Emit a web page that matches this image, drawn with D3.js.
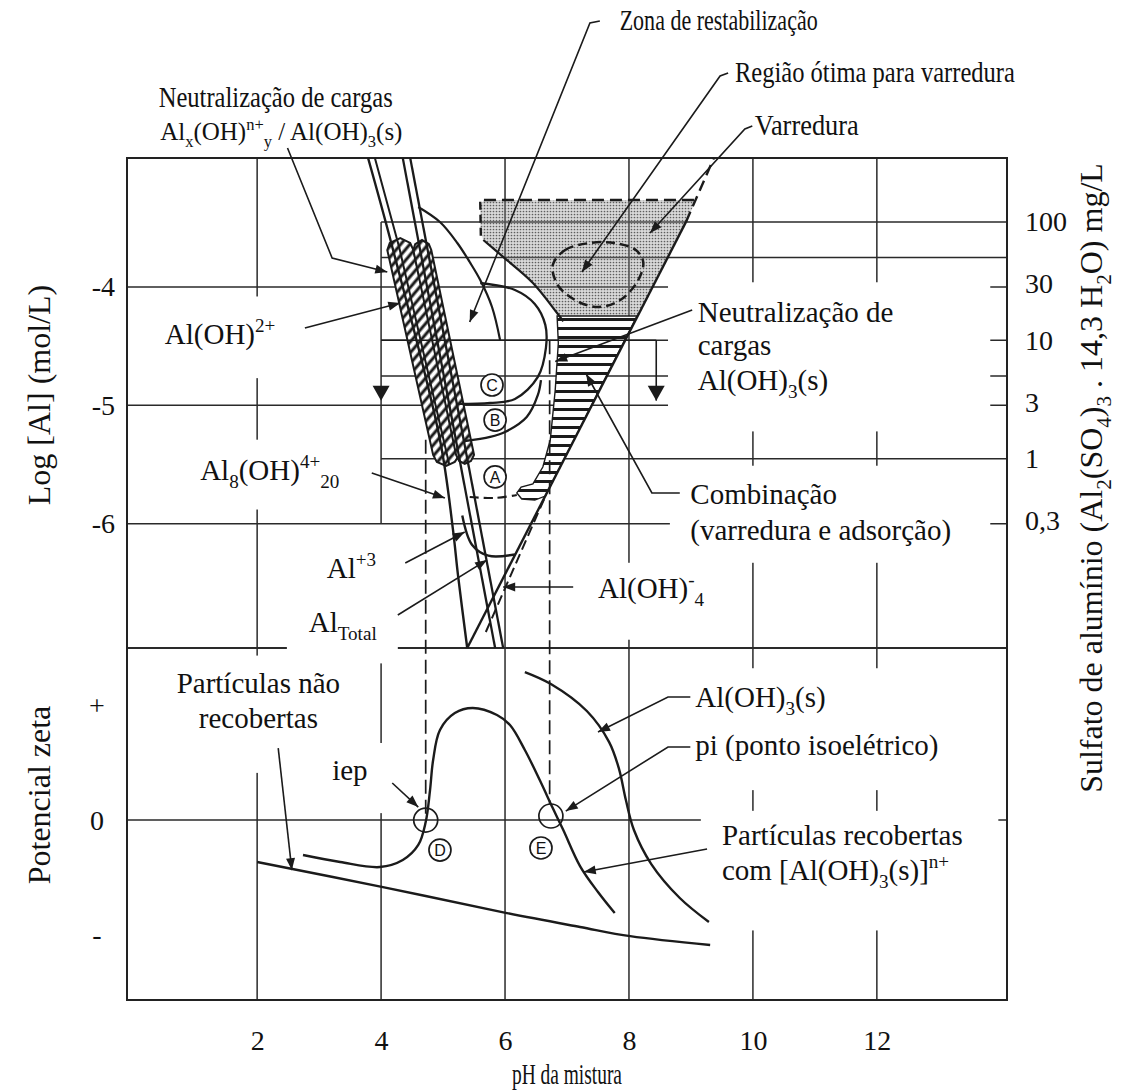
<!DOCTYPE html>
<html lang="pt">
<head>
<meta charset="utf-8">
<title>Diagrama de coagulação – sulfato de alumínio</title>
<script src="https://cdn.jsdelivr.net/npm/d3@7"></script>
<style>
  html, body { margin: 0; padding: 0; background: #fff; }
  svg { display: block; }
  svg text { font-family: "Liberation Serif", "Times New Roman", serif; fill: #111; white-space: pre; }
</style>
</head>
<body>
<svg id="chart" width="1129" height="1091"></svg>
<script>
// ---------------- axis values ----------------
const phTicks = [2, 4, 6, 8, 10, 12];
const logTicks = [-4, -5, -6];
const zetaTicks = [1, 0, -1];
const zetaTickText = ['+', '0', '-'];
const doseTicks = [100, 30, 10, 3, 1, 0.3];   // mg/L of alum, right-hand axis
const doseGrid = [100, 50, 10, 5, 1];         // mg/L guide lines
const ALUM_LOG_SHIFT = -5.45;                 // log10(mg/L alum) -> log10(mol Al/L)

// ---------------- upper panel: log[Al] (mol/L) vs pH ----------------
const alLeft       = [[3.79,-2.91],[4.18,-3.66],[4.95,-5.29],[5.16,-6.05],[5.24,-6.43],[5.39,-7.05]];
const alLeftInner  = [[3.90,-2.91],[4.29,-3.66],[5.10,-5.50]];
const al3Outer     = [[4.35,-2.91],[5.84,-7.05]];
const al3Inner     = [[4.47,-2.91],[5.97,-7.05]];
const aluminate      = [[5.39,-7.05],[8.92,-3.45]];
const aluminateUpper = [[8.92,-3.45],[9.37,-2.91]];
const aluminateDash  = [[5.69,-6.915],[6.66,-5.757]];
const alTotalKnee  = [[5.31,-5.93],[5.47,-6.18],[5.73,-6.27],[6.16,-6.26]];

const restabUpper  = [[4.60,-3.324],[4.95,-3.451],[5.23,-3.628],[5.43,-3.789],[5.60,-3.941],[5.79,-4.169],[5.92,-4.447]];
const zoneC = [[5.60,-3.966],[6.16,-4.025],[6.48,-4.143],[6.65,-4.32],[6.66,-4.515],[6.53,-4.76],[6.16,-4.946],[5.76,-4.98],[5.24,-4.988]];
const zoneB = [[5.35,-5.301],[5.76,-5.267],[6.00,-5.225],[6.35,-5.098],[6.53,-4.912],[6.58,-4.786]];
const zoneA = [[5.43,-5.774],[5.84,-5.782],[6.19,-5.757]];

const sweepArea = [[5.60,-3.307],[5.66,-3.265],[9.09,-3.265],[8.09,-4.296],[6.94,-4.296],[6.84,-4.22],
                   [6.45,-3.966],[5.97,-3.746],[5.65,-3.603],[5.60,-3.518]];
const sweepTopEdge    = [[5.66,-3.265],[9.09,-3.265]];
const sweepLeftDashed = [[5.60,-3.28],[5.61,-3.58]];
const sweepLeftSolid  = [[5.65,-3.603],[5.97,-3.746],[6.45,-3.966],[6.84,-4.22],[6.94,-4.29]];
const sweepOptimum = [[6.77,-3.814],[6.97,-3.687],[7.37,-3.628],[7.77,-3.628],[8.11,-3.687],[8.23,-3.789],
                      [8.15,-3.941],[7.86,-4.11],[7.50,-4.169],[7.13,-4.11],[6.85,-3.983]];

const combinationArea = [[6.84,-4.245],[8.13,-4.245],[6.65,-5.766],[6.48,-5.80],[6.27,-5.791],[6.19,-5.74],
                         [6.26,-5.69],[6.45,-5.664],[6.61,-5.521],[6.73,-5.293],[6.81,-4.87],[6.86,-4.473]];

const bandLeft  = [[4.10,-3.687],[4.14,-3.628],[4.31,-3.586],[4.47,-3.628],[4.52,-3.687],
                   [5.26,-5.419],[5.19,-5.478],[5.05,-5.512],[4.90,-5.478],[4.84,-5.419]];
const bandRight = [[4.52,-3.687],[4.55,-3.637],[4.66,-3.603],[4.77,-3.637],[4.81,-3.687],
                   [5.50,-5.419],[5.45,-5.470],[5.35,-5.495],[5.26,-5.470],[5.21,-5.419]];

const doseBracket = { phFrom: 4, phTo: 8.44, dose: 10, tipLog: -4.96 };
const iepGuide = { ph: 4.72, fromLog: -5.29, toZeta: 0.0 };
const piGuide  = { ph: 6.72, fromLog: -4.45, toZeta: 0.14 };

const regionMarks = [ { t:'C', ph:5.79, v:-4.828 }, { t:'B', ph:5.84, v:-5.124 }, { t:'A', ph:5.84, v:-5.605 } ];

// ---------------- lower panel: zeta potential vs pH ----------------
const uncoated = [[2.00,-0.365],[4.03,-0.583],[6.03,-0.809],[7.21,-0.93],[8.02,-1.01],[9.31,-1.087]];
const coated = [[2.74,-0.304],[3.34,-0.365],[3.98,-0.409],[4.35,-0.348],[4.60,-0.217],[4.72,-0.017],
                [4.79,0.261],[4.84,0.522],[4.95,0.783],[5.19,0.930],[5.48,0.974],[5.87,0.913],[6.08,0.826],
                [6.32,0.609],[6.56,0.348],[6.77,0.104],[6.94,-0.087],[7.21,-0.40],[7.50,-0.626],[7.77,-0.809]];
const hydroxide = [[6.32,1.287],[6.74,1.183],[7.32,0.948],[7.68,0.678],[7.84,0.443],[7.95,0.174],
                   [8.08,-0.087],[8.36,-0.383],[8.82,-0.678],[9.29,-0.887]];
const zeroCrossings = [[4.72, 0.0],[6.74, 0.035]];
const zetaMarks = [ { t:'D', ph:4.95, v:-0.261 }, { t:'E', ph:6.58, v:-0.243 } ];

// ---------------- annotations ----------------
const labelsTop = [
  { ph:7.85,  v:-1.829, anchor:'start',  text:'Zona de restabilização' },
  { ph:9.71,  v:-2.268, anchor:'start',  text:'Região ótima para varredura' },
  { ph:2.30,  v:-2.479, anchor:'middle', text:'Neutralização de cargas' },
  { ph:2.39,  v:-2.758, anchor:'middle', text:'Al_{x}(OH)^{n+}_{y} / Al(OH)_{3}(s)' },
  { ph:10.03, v:-2.716, anchor:'start',  text:'Varredura' },
  { ph:0.51,  v:-4.481, anchor:'start',  text:'Al(OH)^{2+}' },
  { ph:9.11,  v:-4.296, anchor:'start',  text:'Neutralização de' },
  { ph:9.11,  v:-4.574, anchor:'start',  text:'cargas' },
  { ph:9.11,  v:-4.870, anchor:'start',  text:'Al(OH)_{3}(s)' },
  { ph:1.08,  v:-5.630, anchor:'start',  text:'Al_{8}(OH)^{4+}_{20}' },
  { ph:8.99,  v:-5.833, anchor:'start',  text:'Combinação' },
  { ph:8.99,  v:-6.137, anchor:'start',  text:'(varredura e adsorção)' },
  { ph:3.92,  v:-6.459, anchor:'end',    text:'Al^{+3}' },
  { ph:3.93,  v:-6.915, anchor:'end',    text:'Al_{Total}' },
  { ph:7.50,  v:-6.628, anchor:'start',  text:'Al(OH)^{-}_{4}' }
];
const labelsBottom = [
  { ph:2.02, v:1.104,  anchor:'middle', text:'Partículas não' },
  { ph:2.02, v:0.800,  anchor:'middle', text:'recobertas' },
  { ph:3.21, v:0.348,  anchor:'start',  text:'iep' },
  { ph:9.07, v:0.983,  anchor:'start',  text:'Al(OH)_{3}(s)' },
  { ph:9.07, v:0.565,  anchor:'start',  text:'pi (ponto isoelétrico)' },
  { ph:9.50, v:-0.217, anchor:'start',  text:'Partículas recobertas' },
  { ph:9.50, v:-0.522, anchor:'start',  text:'com [Al(OH)_{3}(s)]^{n+}' }
];
const leadersTop = [
  [[2.49,-2.826],[3.21,-3.755],[4.10,-3.873]],
  [[2.77,-4.346],[4.31,-4.135]],
  [[7.53,-1.753],[7.37,-1.770],[5.43,-4.296]],
  [[9.60,-2.192],[9.47,-2.217],[7.24,-3.873]],
  [[9.99,-2.640],[9.87,-2.665],[8.34,-3.544]],
  [[9.02,-4.194],[6.81,-4.630]],
  [[8.82,-5.740],[8.37,-5.740],[7.31,-4.735]],
  [[3.85,-5.571],[5.03,-5.783]],
  [[4.39,-6.332],[5.35,-6.070]],
  [[4.27,-6.771],[5.71,-6.306]],
  [[7.10,-6.534],[5.97,-6.534]]
];
const leadersBottom = [
  [[2.34,0.626],[2.56,-0.435]],
  [[4.18,0.322],[4.60,0.113]],
  [[8.99,1.070],[8.63,1.070],[7.50,0.765]],
  [[8.99,0.635],[8.63,0.635],[6.98,0.078]],
  [[9.26,-0.252],[7.27,-0.452]]
];
// blank panels behind the annotation text: [pH0, pH1, v0, v1]
const textPanelsTop = [
  [0.27, 2.69, -4.08, -4.77],
  [0.92, 3.50, -5.29, -5.88],
  [2.48, 4.27, -6.10, -7.18],
  [8.63, 13.83, -3.96, -5.22],
  [8.66, 13.83, -5.51, -6.33],
  [7.13, 9.34, -6.33, -6.98]
];
const textPanelsBottom = [
  [0.43, 3.50, 1.43, 0.41],
  [3.01, 4.24, 0.67, 0.06],
  [8.95, 13.96, 1.32, 0.26],
  [9.16, 13.96, 0.08, -0.96]
];
// the captions above the frame are set in a narrower type: rendered width in px
const captionWidth = {
  'Zona de restabilização': 198,
  'Região ótima para varredura': 280,
  'Neutralização de cargas': 234,
  'Varredura': 104
};
const captionSize = { 'Al_{x}(OH)^{n+}_{y} / Al(OH)_{3}(s)': 25 };

// ---------------- layout & scales ----------------
const frame = { left:127, right:1007, top:158, mid:648, bottom:1000 };
const INK = '#1b1b1b';
const FS = 29;

const x = d3.scaleLinear().domain([-0.1, 14.1]).range([frame.left, frame.right]);
const yLog = d3.scaleLinear().domain([-7.05, -2.91]).range([frame.mid, frame.top]);
const yZeta = d3.scaleLinear().domain([-1.565, 1.496]).range([frame.bottom, frame.mid]);
const yDose = d3.scaleLog()
  .domain([Math.pow(10, -7.05 - ALUM_LOG_SHIFT), Math.pow(10, -2.91 - ALUM_LOG_SHIFT)])
  .range([frame.mid, frame.top]);

const svg = d3.select('#chart');

// ---------------- patterns ----------------
const defs = svg.append('defs');
const stipple = defs.append('pattern').attr('id', 'stipple')
  .attr('patternUnits', 'userSpaceOnUse').attr('width', 3).attr('height', 3);
stipple.append('circle').attr('cx', 1.5).attr('cy', 1.5).attr('r', 0.85).attr('fill', '#5e5e5e');

const diag = defs.append('pattern').attr('id', 'diagHatch')
  .attr('patternUnits', 'userSpaceOnUse').attr('width', 7).attr('height', 7)
  .attr('patternTransform', 'rotate(40)');
diag.append('rect').attr('width', 7).attr('height', 7).attr('fill', '#fff');
diag.append('line').attr('x1', 2).attr('x2', 2).attr('y1', 0).attr('y2', 7)
  .attr('stroke', INK).attr('stroke-width', 3);

const horiz = defs.append('pattern').attr('id', 'hHatch')
  .attr('patternUnits', 'userSpaceOnUse').attr('width', 10).attr('height', 9);
horiz.append('rect').attr('width', 10).attr('height', 9).attr('fill', '#fff');
horiz.append('line').attr('x1', 0).attr('x2', 10).attr('y1', 4.5).attr('y2', 4.5)
  .attr('stroke', INK).attr('stroke-width', 3);

// ---------------- generators ----------------
const topLine  = d3.line().x(d => x(d[0])).y(d => yLog(d[1]));
const topCurve = d3.line().x(d => x(d[0])).y(d => yLog(d[1])).curve(d3.curveCatmullRom.alpha(0.5));
const topLoop  = d3.line().x(d => x(d[0])).y(d => yLog(d[1])).curve(d3.curveCatmullRomClosed.alpha(0.5));
const botCurve = d3.line().x(d => x(d[0])).y(d => yZeta(d[1])).curve(d3.curveCatmullRom.alpha(0.5));

function arrowHead(g, from, to, len, half) {
  const dx = to[0] - from[0], dy = to[1] - from[1];
  const L = Math.hypot(dx, dy), ux = dx / L, uy = dy / L;
  const bx = to[0] - ux * len, by = to[1] - uy * len;
  const pts = [[to[0], to[1]], [bx - uy * half, by + ux * half], [bx + uy * half, by - ux * half]];
  g.append('path').attr('d', 'M' + pts.map(p => p.join(',')).join('L') + 'Z').attr('fill', INK);
}

// text with ^{superscript} and _{subscript} runs
function richText(sel, str, fs) {
  const tokens = str.split(/(\^\{[^}]*\}|_\{[^}]*\})/).filter(s => s.length);
  let shift = 0;
  tokens.forEach(tok => {
    let mode = 0, t = tok;
    if (tok.startsWith('^{')) { mode = -1; t = tok.slice(2, -1); }
    else if (tok.startsWith('_{')) { mode = 1; t = tok.slice(2, -1); }
    const target = mode === -1 ? -0.42 * fs : mode === 1 ? 0.27 * fs : 0;
    sel.append('tspan').attr('dy', target - shift).attr('font-size', mode ? fs * 0.66 : fs).text(t);
    shift = target;
  });
  return sel;
}

// ---------------- grid ----------------
const grid = svg.append('g').attr('stroke', '#2a2a2a').attr('stroke-width', 1.5).attr('fill', 'none');
phTicks.forEach(p => {
  const y0 = p === 4 ? yDose(100) : frame.top;
  const y1 = p === 4 ? yLog(-6) : frame.mid;
  grid.append('line').attr('x1', x(p)).attr('x2', x(p)).attr('y1', y0).attr('y2', y1);
  grid.append('line').attr('x1', x(p)).attr('x2', x(p)).attr('y1', frame.mid).attr('y2', frame.bottom);
});
logTicks.forEach(v => grid.append('line')
  .attr('x1', frame.left).attr('x2', frame.right).attr('y1', yLog(v)).attr('y2', yLog(v)));
doseGrid.forEach(m => grid.append('line')
  .attr('x1', x(4)).attr('x2', frame.right).attr('y1', yDose(m)).attr('y2', yDose(m)));
grid.append('line').attr('x1', frame.left).attr('x2', frame.right)
  .attr('y1', yZeta(0)).attr('y2', yZeta(0));
grid.append('line').attr('x1', frame.left).attr('x2', frame.right)
  .attr('y1', frame.mid).attr('y2', frame.mid).attr('stroke-width', 1.8);
svg.append('rect').attr('x', frame.left).attr('y', frame.top)
  .attr('width', frame.right - frame.left).attr('height', frame.bottom - frame.top)
  .attr('fill', 'none').attr('stroke', '#222').attr('stroke-width', 2);

// blank panels that carry the annotation text
const panels = svg.append('g').attr('fill', '#fff');
textPanelsTop.forEach(b => panels.append('rect')
  .attr('x', x(b[0])).attr('width', x(b[1]) - x(b[0]))
  .attr('y', yLog(b[2])).attr('height', yLog(b[3]) - yLog(b[2])));
textPanelsBottom.forEach(b => panels.append('rect')
  .attr('x', x(b[0])).attr('width', x(b[1]) - x(b[0]))
  .attr('y', yZeta(b[2])).attr('height', yZeta(b[3]) - yZeta(b[2])));

// ---------------- regions ----------------
const regions = svg.append('g');
regions.append('path').attr('d', topLine(sweepArea) + 'Z').attr('fill', '#8d8d8d').attr('fill-opacity', 0.33);
regions.append('path').attr('d', topLine(sweepArea) + 'Z').attr('fill', 'url(#stipple)');
regions.append('path').attr('d', topLine(combinationArea) + 'Z')
  .attr('fill', 'url(#hHatch)').attr('stroke', INK).attr('stroke-width', 1.4);
[bandLeft, bandRight].forEach(b => regions.append('path').attr('d', topLine(b) + 'Z')
  .attr('fill', 'url(#diagHatch)').attr('stroke', INK).attr('stroke-width', 2));

// ---------------- upper panel lines ----------------
const lines = svg.append('g').attr('fill', 'none').attr('stroke', INK).attr('stroke-linejoin', 'round');
lines.append('path').attr('d', topCurve(alLeft)).attr('stroke-width', 2.4);
lines.append('path').attr('d', topLine(alLeftInner)).attr('stroke-width', 2);
lines.append('path').attr('d', topLine(al3Outer)).attr('stroke-width', 2.3);
lines.append('path').attr('d', topLine(al3Inner)).attr('stroke-width', 2.3);
lines.append('path').attr('d', topLine(aluminate)).attr('stroke-width', 2.4);
lines.append('path').attr('d', topLine(aluminateUpper)).attr('stroke-width', 2.4).attr('stroke-dasharray', '11 6');
lines.append('path').attr('d', topLine(aluminateDash)).attr('stroke-width', 2).attr('stroke-dasharray', '10 5');
lines.append('path').attr('d', topCurve(alTotalKnee)).attr('stroke-width', 2.4);
lines.append('path').attr('d', topCurve(restabUpper)).attr('stroke-width', 2.2);
lines.append('path').attr('d', topCurve(zoneC)).attr('stroke-width', 2.3);
lines.append('path').attr('d', topCurve(zoneB)).attr('stroke-width', 2.3);
lines.append('path').attr('d', topCurve(zoneA)).attr('stroke-width', 2.2).attr('stroke-dasharray', '9 5');
lines.append('path').attr('d', topLine(sweepTopEdge)).attr('stroke-width', 2.4).attr('stroke-dasharray', '12 6');
lines.append('path').attr('d', topLine(sweepLeftDashed)).attr('stroke-width', 2.4).attr('stroke-dasharray', '8 5');
lines.append('path').attr('d', topCurve(sweepLeftSolid)).attr('stroke-width', 2.2);
lines.append('path').attr('d', topLoop(sweepOptimum)).attr('stroke-width', 2.5).attr('stroke-dasharray', '9 5');

// dosage bracket at 10 mg/L with downward arrows
const br = svg.append('g').attr('stroke', INK).attr('fill', 'none').attr('stroke-width', 1.6);
br.append('line').attr('x1', x(doseBracket.phFrom)).attr('x2', x(doseBracket.phTo))
  .attr('y1', yDose(doseBracket.dose)).attr('y2', yDose(doseBracket.dose));
br.append('line').attr('x1', x(doseBracket.phTo)).attr('x2', x(doseBracket.phTo))
  .attr('y1', yDose(doseBracket.dose)).attr('y2', yLog(doseBracket.tipLog));
[doseBracket.phFrom, doseBracket.phTo].forEach(p =>
  arrowHead(svg, [x(p), yLog(doseBracket.tipLog) - 30], [x(p), yLog(doseBracket.tipLog)], 15, 8.5));

// dashed guides from the upper diagram down to the zeta axis
[iepGuide, piGuide].forEach(gd => svg.append('line')
  .attr('x1', x(gd.ph)).attr('x2', x(gd.ph))
  .attr('y1', yLog(gd.fromLog)).attr('y2', yZeta(gd.toZeta))
  .attr('stroke', INK).attr('stroke-width', 1.7).attr('stroke-dasharray', '14 6'));

// ---------------- lower panel curves ----------------
lines.append('path').attr('d', botCurve(uncoated)).attr('stroke-width', 2.4);
lines.append('path').attr('d', botCurve(coated)).attr('stroke-width', 2.4);
lines.append('path').attr('d', botCurve(hydroxide)).attr('stroke-width', 2.4);

zeroCrossings.forEach(c => svg.append('circle').attr('cx', x(c[0])).attr('cy', yZeta(c[1])).attr('r', 12)
  .attr('fill', 'none').attr('stroke', INK).attr('stroke-width', 1.7));

function markLetter(m, yScale) {
  const g = svg.append('g').attr('transform', `translate(${x(m.ph)},${yScale(m.v)})`);
  g.append('circle').attr('r', 11).attr('fill', '#fff').attr('stroke', INK).attr('stroke-width', 1.7);
  g.append('text').attr('text-anchor', 'middle').attr('dy', '0.36em')
    .style('font-family', '"Liberation Sans", Arial, sans-serif').attr('font-size', 16).text(m.t);
}
regionMarks.forEach(m => markLetter(m, yLog));
zetaMarks.forEach(m => markLetter(m, yZeta));

// ---------------- leaders ----------------
const lead = svg.append('g');
function drawLeader(pts, yScale) {
  const px = pts.map(p => [x(p[0]), yScale(p[1])]);
  lead.append('path').attr('d', d3.line()(px)).attr('fill', 'none')
    .attr('stroke', INK).attr('stroke-width', 1.6);
  arrowHead(lead, px[px.length - 2], px[px.length - 1], 12, 4.5);
}
leadersTop.forEach(p => drawLeader(p, yLog));
leadersBottom.forEach(p => drawLeader(p, yZeta));

// ---------------- labels ----------------
const lab = svg.append('g');
labelsTop.forEach(l => {
  const fs = captionSize[l.text] || FS;
  const t = lab.append('text').attr('x', x(l.ph)).attr('y', yLog(l.v))
    .attr('text-anchor', l.anchor).attr('font-size', fs);
  richText(t, l.text, fs);
  if (captionWidth[l.text]) t.attr('textLength', captionWidth[l.text]).attr('lengthAdjust', 'spacingAndGlyphs');
});
labelsBottom.forEach(l => richText(lab.append('text').attr('x', x(l.ph)).attr('y', yZeta(l.v))
  .attr('text-anchor', l.anchor).attr('font-size', FS), l.text, FS));

// ---------------- axes ----------------
function styleAxis(g) {
  g.select('.domain').remove();
  g.selectAll('line').remove();
  g.attr('font-family', null).attr('font-size', null);
  g.selectAll('text').attr('font-size', 28).attr('fill', '#111');
}
svg.append('g').attr('transform', `translate(0,${frame.bottom})`)
  .call(d3.axisBottom(x).tickValues(phTicks).tickSize(0).tickPadding(30).tickFormat(d => String(d)))
  .call(styleAxis);
svg.append('g').attr('transform', `translate(${frame.left},0)`)
  .call(d3.axisLeft(yLog).tickValues(logTicks).tickSize(0).tickPadding(12).tickFormat(d => String(d)))
  .call(styleAxis);
svg.append('g').attr('transform', `translate(${frame.left},0)`)
  .call(d3.axisLeft(yZeta).tickValues(zetaTicks).tickSize(0).tickPadding(30)
    .tickFormat((d, i) => zetaTickText[i]))
  .call(styleAxis)
  .selectAll('text').attr('text-anchor', 'middle');
svg.append('g').attr('transform', `translate(${frame.right},0)`)
  .call(d3.axisRight(yDose).tickValues(doseTicks).tickSize(0).tickPadding(18)
    .tickFormat(d => String(d).replace('.', ',')))
  .call(styleAxis);

// axis titles
const TFS = 32;
svg.append('text').attr('x', 567).attr('y', 1084)
  .attr('text-anchor', 'middle').attr('font-size', FS)
  .attr('textLength', 110).attr('lengthAdjust', 'spacingAndGlyphs').text('pH da mistura');
richText(svg.append('text').attr('transform', 'translate(50,395) rotate(-90)')
  .attr('text-anchor', 'middle').attr('font-size', TFS), 'Log [Al] (mol/L)', TFS);
richText(svg.append('text').attr('transform', 'translate(50,795) rotate(-90)')
  .attr('text-anchor', 'middle').attr('font-size', TFS), 'Potencial zeta', TFS);
richText(svg.append('text').attr('transform', 'translate(1102,478) rotate(-90)')
  .attr('text-anchor', 'middle').attr('font-size', TFS),
  'Sulfato de alumínio (Al_{2}(SO_{4})_{3} . 14,3 H_{2}O) mg/L', TFS);
</script>
</body>
</html>
